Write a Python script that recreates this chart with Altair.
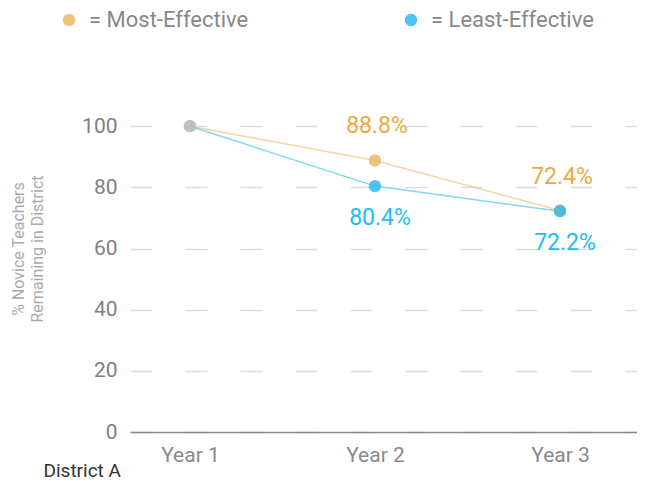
import altair as alt
import pandas as pd

years = [1, 2, 3]
series_names = ["Most-Effective", "Least-Effective"]
most_effective = [100, 88.8, 72.4]
least_effective = [100, 80.4, 72.2]

rows = []
for name, vals in zip(series_names, [most_effective, least_effective]):
    for y, v in zip(years, vals):
        rows.append({"year": y, "series": name, "value": v})
df = pd.DataFrame(rows)

FONT = "Roboto"
point_colors = ["#EDB865", "#2FBBF0"]
text_colors = ["#EBA945", "#22BDEE"]

x_enc = alt.X(
    "year:Q",
    scale=alt.Scale(domain=[0.676, 3.416], nice=False, zero=False),
    axis=alt.Axis(
        values=years,
        labelExpr="'Year ' + datum.value",
        grid=False,
        ticks=False,
        domainColor="#888888",
        domainWidth=1.5,
        labelFontSize=21,
        labelColor="#8A8A8A",
        labelPadding=12,
        labelFont=FONT,
        title="District A",
        titleFont=FONT,
        titleFontSize=19,
        titleFontWeight="normal",
        titleColor="#333333",
        titleX=-87,
        titleY=44,
        titleAlign="left",
        titleBaseline="alphabetic",
    ),
)
y_enc = alt.Y(
    "value:Q",
    scale=alt.Scale(domain=[0, 120], nice=False),
    axis=alt.Axis(
        values=[0, 20, 40, 60, 80, 100],
        domain=False,
        ticks=False,
        grid=True,
        gridColor="#DDDDDD",
        gridWidth=1.5,
        gridDash=[22, 33],
        labelFontSize=21,
        labelColor="#808080",
        labelPadding=13,
        labelFont=FONT,
        title=["% Novice Teachers", "Remaining in District"],
        titleFont=FONT,
        titleFontSize=16,
        titleFontWeight="normal",
        titleColor="#AAAAAA",
        titleLineHeight=19.5,
        titlePadding=36,
    ),
)

base = alt.Chart(df)

lines = base.mark_line(strokeWidth=1.5, opacity=0.6).encode(
    x=x_enc,
    y=y_enc,
    color=alt.Color("series:N", scale=alt.Scale(domain=series_names, range=point_colors), legend=None),
    detail="series:N",
)

points = base.mark_circle(size=154, opacity=0.85).encode(
    x="year:Q",
    y="value:Q",
    color=alt.condition(
        alt.datum.year == 1,
        alt.value("#BDBDC0"),
        alt.Color(
            "series:N",
            scale=alt.Scale(domain=series_names, range=point_colors),
            legend=alt.Legend(
                title=None,
                orient="none",
                direction="horizontal",
                legendX=-72,
                legendY=-56,
                labelExpr="'= ' + datum.label",
                labelFont=FONT,
                labelFontSize=22,
                labelColor="#888888",
                labelOffset=9,
                symbolType="circle",
                symbolSize=154,
                symbolStrokeWidth=0,
                columnPadding=151,
                labelLimit=400,
            ),
        ),
    ),
)

text_color = alt.Color("series:N", scale=alt.Scale(domain=series_names, range=text_colors), legend=None)

labels_top = base.transform_filter(
    (alt.datum.year > 1) & (alt.datum.series == "Most-Effective")
).transform_calculate(
    label="format(datum.value, '.1f') + '%'"
).mark_text(font=FONT, fontSize=23, dy=-34, dx=2, baseline="middle").encode(
    x="year:Q", y="value:Q", text="label:N", color=text_color
)

labels_bottom = base.transform_filter(
    (alt.datum.year > 1) & (alt.datum.series == "Least-Effective")
).transform_calculate(
    label="format(datum.value, '.1f') + '%'"
).mark_text(font=FONT, fontSize=23, dy=32, dx=5, baseline="middle").encode(
    x="year:Q", y="value:Q", text="label:N", color=text_color
)

chart = (
    alt.layer(lines, points, labels_top, labels_bottom)
    .resolve_scale(color="independent")
    .properties(
        width=507,
        height=367,
        autosize=alt.AutoSizeParams(type="none"),
        padding={"left": 122, "top": 57, "right": 0, "bottom": 50},
    )
    .configure_view(stroke=None)
)

chart.save("out.html", embed_options={"renderer": "svg", "actions": False})
